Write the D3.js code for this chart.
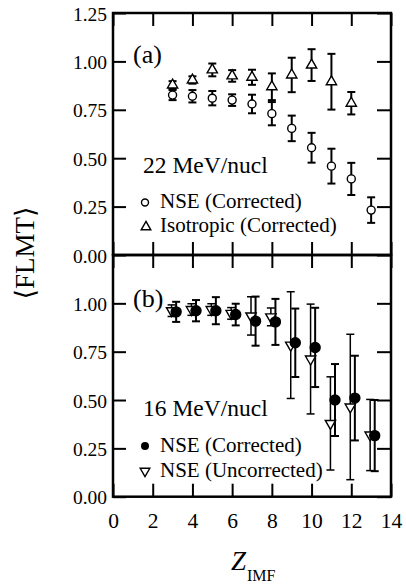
<!DOCTYPE html>
<html>
<head>
<meta charset="utf-8">
<script src="https://cdn.jsdelivr.net/npm/d3@7"></script>
<style>
  html, body { margin: 0; padding: 0; background: #fff; }
  text { font-family: "Liberation Serif", "DejaVu Serif", serif; fill: #000; }
</style>
</head>
<body>
<div id="chart"></div>
<script>
/*
 * Panel (a): 22 MeV/nucl.
 */
var zTop = [3, 4, 5, 6, 7, 8, 9, 10, 11, 12, 13];
var nseTop = [0.826, 0.82, 0.81, 0.80, 0.78, 0.73, 0.654, 0.554, 0.459, 0.393, 0.232];
var nseTopErr = [0.026, 0.032, 0.037, 0.03, 0.048, 0.06, 0.066, 0.077, 0.09, 0.083, 0.066];
var zIso = [3, 4, 5, 6, 7, 8, 9, 10, 11, 12];
var isoTop = [0.878, 0.904, 0.956, 0.925, 0.918, 0.869, 0.93, 0.981, 0.895, 0.784];
var isoTopErr = [0.02, 0.019, 0.033, 0.03, 0.039, 0.069, 0.089, 0.082, 0.144, 0.058];
/*
 * Panel (b): 16 MeV/nucl.
 */
var zBottom = [3, 4, 5, 6, 7, 8, 9, 10, 11, 12, 13];
var nseCorr = [0.956, 0.962, 0.962, 0.942, 0.908, 0.904, 0.796, 0.772, 0.50, 0.51, 0.316];
var nseCorrErr = [0.052, 0.055, 0.07, 0.056, 0.127, 0.119, 0.177, 0.205, 0.186, 0.219, 0.184];
var nseUnc = [0.962, 0.968, 0.968, 0.948, 0.935, 0.93, 0.784, 0.712, 0.379, 0.464, 0.319];
var nseUncErr = [0.03, 0.03, 0.03, 0.03, 0.099, 0.046, 0.276, 0.284, 0.241, 0.376, 0.184];
/*
 * Tick values.
 */
var xTicks = [0, 2, 4, 6, 8, 10, 12, 14];
var xMinorTicks = d3.range(0, 15, 1);
var yTicksTop = [0, 0.25, 0.5, 0.75, 1.0, 1.25];
var yTicksBottom = [0, 0.25, 0.5, 0.75, 1.0];
var yMinorTicks = d3.range(0, 1.2501, 0.05);
/*
 * Legend texts.
 */
var legendTop = ['NSE (Corrected)', 'Isotropic (Corrected)'];
var legendBottom = ['NSE (Corrected)', 'NSE (Uncorrected)'];

var width = 406, height = 584;
var plotLeft = 113, plotRight = 391, plotTop = 13, plotMiddle = 255, plotBottom = 496.7;

var svg = d3.select('#chart').append('svg')
    .attr('width', width)
    .attr('height', height);

var x = d3.scaleLinear().domain([0, 14]).range([plotLeft, plotRight]);
var yTop = d3.scaleLinear().domain([0, 1.25]).range([plotMiddle, plotTop]);
var yBot = d3.scaleLinear().domain([0, 1.25]).range([plotBottom, plotMiddle]);

/**
 * Draw ticks on all four sides of a panel.
 */
function drawAxes(y, y0, y1, labels, showX) {
    var fmt = d3.format('.2f');
    /*
     * Left axis with labels.
     */
    var g = svg.append('g').attr('transform', 'translate(' + plotLeft + ',0)');
    g.call(d3.axisLeft(y).tickValues(yMinorTicks).tickFormat('').tickSize(-7));
    g.call(d3.axisLeft(y).tickValues(labels).tickFormat(fmt).tickSize(-13).tickPadding(6));
    g.selectAll('text').style('font-size', '19.5px').attr('dy', '0.36em');
    /*
     * Right axis.
     */
    var r = svg.append('g').attr('transform', 'translate(' + plotRight + ',0)');
    r.call(d3.axisRight(y).tickValues(yMinorTicks).tickFormat('').tickSize(-7));
    r.call(d3.axisRight(y).tickValues(labels).tickFormat('').tickSize(-14));
    /*
     * Top and bottom axes.
     */
    var t = svg.append('g').attr('transform', 'translate(0,' + y1 + ')');
    t.call(d3.axisTop(x).tickValues(xMinorTicks).tickFormat('').tickSize(-7));
    t.call(d3.axisTop(x).tickValues(xTicks).tickFormat('').tickSize(-13));
    var b = svg.append('g').attr('transform', 'translate(0,' + y0 + ')');
    b.call(d3.axisBottom(x).tickValues(xMinorTicks).tickFormat('').tickSize(-7));
    b.call(d3.axisBottom(x).tickValues(xTicks).tickFormat(showX ? d3.format('d') : '')
        .tickSize(-13).tickPadding(16));
    b.selectAll('text').style('font-size', '21.5px');

    svg.selectAll('.domain').remove();
    svg.selectAll('.tick line').attr('stroke', '#000').attr('stroke-width', 2);
    svg.selectAll('.tick text').attr('fill', '#000').style('font-family', '"Liberation Serif", serif');
    /*
     * Frame.
     */
    svg.append('rect')
        .attr('x', plotLeft).attr('y', y1)
        .attr('width', plotRight - plotLeft).attr('height', y0 - y1)
        .attr('fill', 'none').attr('stroke', '#000').attr('stroke-width', 2.5);
}

/**
 * Draw error bars with caps.
 */
function drawErrors(zs, vals, errs, y, dx, sw) {
    var g = svg.append('g').attr('stroke', '#000').attr('stroke-width', sw);
    zs.forEach(function(z, i) {
        var cx = x(z + dx), lo = y(vals[i] - errs[i]), hi = y(vals[i] + errs[i]);
        g.append('line').attr('x1', cx).attr('x2', cx).attr('y1', lo).attr('y2', hi);
        g.append('line').attr('x1', cx - 4).attr('x2', cx + 4).attr('y1', lo).attr('y2', lo);
        g.append('line').attr('x1', cx - 4).attr('x2', cx + 4).attr('y1', hi).attr('y2', hi);
    });
}

var triUp = d3.symbol().type(d3.symbolTriangle).size(46);

function drawTriangles(zs, vals, y, dx, down) {
    svg.append('g').selectAll('path').data(zs).join('path')
        .attr('d', triUp())
        .attr('transform', function(z, i) {
            return 'translate(' + x(z + dx) + ',' + y(vals[i]) + ')' + (down ? ' rotate(180)' : '');
        })
        .attr('fill', '#fff').attr('stroke', '#000').attr('stroke-width', 1.4);
}

function drawCircles(zs, vals, y, dx, filled, r) {
    svg.append('g').selectAll('circle').data(zs).join('circle')
        .attr('cx', function(z) { return x(z + dx); })
        .attr('cy', function(z, i) { return y(vals[i]); })
        .attr('r', r)
        .attr('fill', filled ? '#000' : '#fff')
        .attr('stroke', '#000').attr('stroke-width', 1.4);
}

/*
 * Panel (a).
 */
drawAxes(yTop, plotMiddle, plotTop, yTicksTop, false);
drawErrors(zIso, isoTop, isoTopErr, yTop, 0, 2);
drawErrors(zTop, nseTop, nseTopErr, yTop, 0, 2);
drawTriangles(zIso, isoTop, yTop, 0, false);
drawCircles(zTop, nseTop, yTop, 0, false, 4);

/*
 * Panel (b).
 */
drawAxes(yBot, plotBottom, plotMiddle, yTicksBottom, true);
drawErrors(zBottom, nseUnc, nseUncErr, yBot, -0.05, 1.5);
drawErrors(zBottom, nseCorr, nseCorrErr, yBot, 0.18, 2);
drawTriangles(zBottom, nseUnc, yBot, -0.05, true);
drawCircles(zBottom, nseCorr, yBot, 0.18, true, 5);

/*
 * Panel labels and legends.
 */
function label(tx, ty, s, size) {
    return svg.append('text').attr('x', tx).attr('y', ty).style('font-size', size + 'px').text(s);
}
label(133, 63, '(a)', 26);
label(133, 307, '(b)', 26);
label(143, 173, '22 MeV/nucl', 23.5);
label(143, 416, '16 MeV/nucl', 23.5);
label(160, 208, legendTop[0], 21);
label(160, 232, legendTop[1], 21);
label(160, 452, legendBottom[0], 21);
label(160, 477, legendBottom[1], 21);

svg.append('circle').attr('cx', 145).attr('cy', 202.5).attr('r', 3.5)
    .attr('fill', '#fff').attr('stroke', '#000').attr('stroke-width', 1.4);
svg.append('path').attr('d', d3.symbol().type(d3.symbolTriangle).size(40)())
    .attr('transform', 'translate(146,227)')
    .attr('fill', '#fff').attr('stroke', '#000').attr('stroke-width', 1.4);
svg.append('circle').attr('cx', 145).attr('cy', 446).attr('r', 4).attr('fill', '#000');
svg.append('path').attr('d', d3.symbol().type(d3.symbolTriangle).size(40)())
    .attr('transform', 'translate(145,471) rotate(180)')
    .attr('fill', '#fff').attr('stroke', '#000').attr('stroke-width', 1.4);

/*
 * Axis titles.
 */
svg.append('text')
    .attr('transform', 'translate(34,253) rotate(-90)')
    .attr('text-anchor', 'middle')
    .style('font-size', '27px')
    .text('\u27E8FLMT\u27E9');

var xt = svg.append('text').attr('x', 231).attr('y', 570);
xt.append('tspan').style('font-size', '27px').style('font-style', 'italic').text('Z');
xt.append('tspan').attr('dy', 11).attr('dx', 1).style('font-size', '16px').text('IMF');
</script>
</body>
</html>
